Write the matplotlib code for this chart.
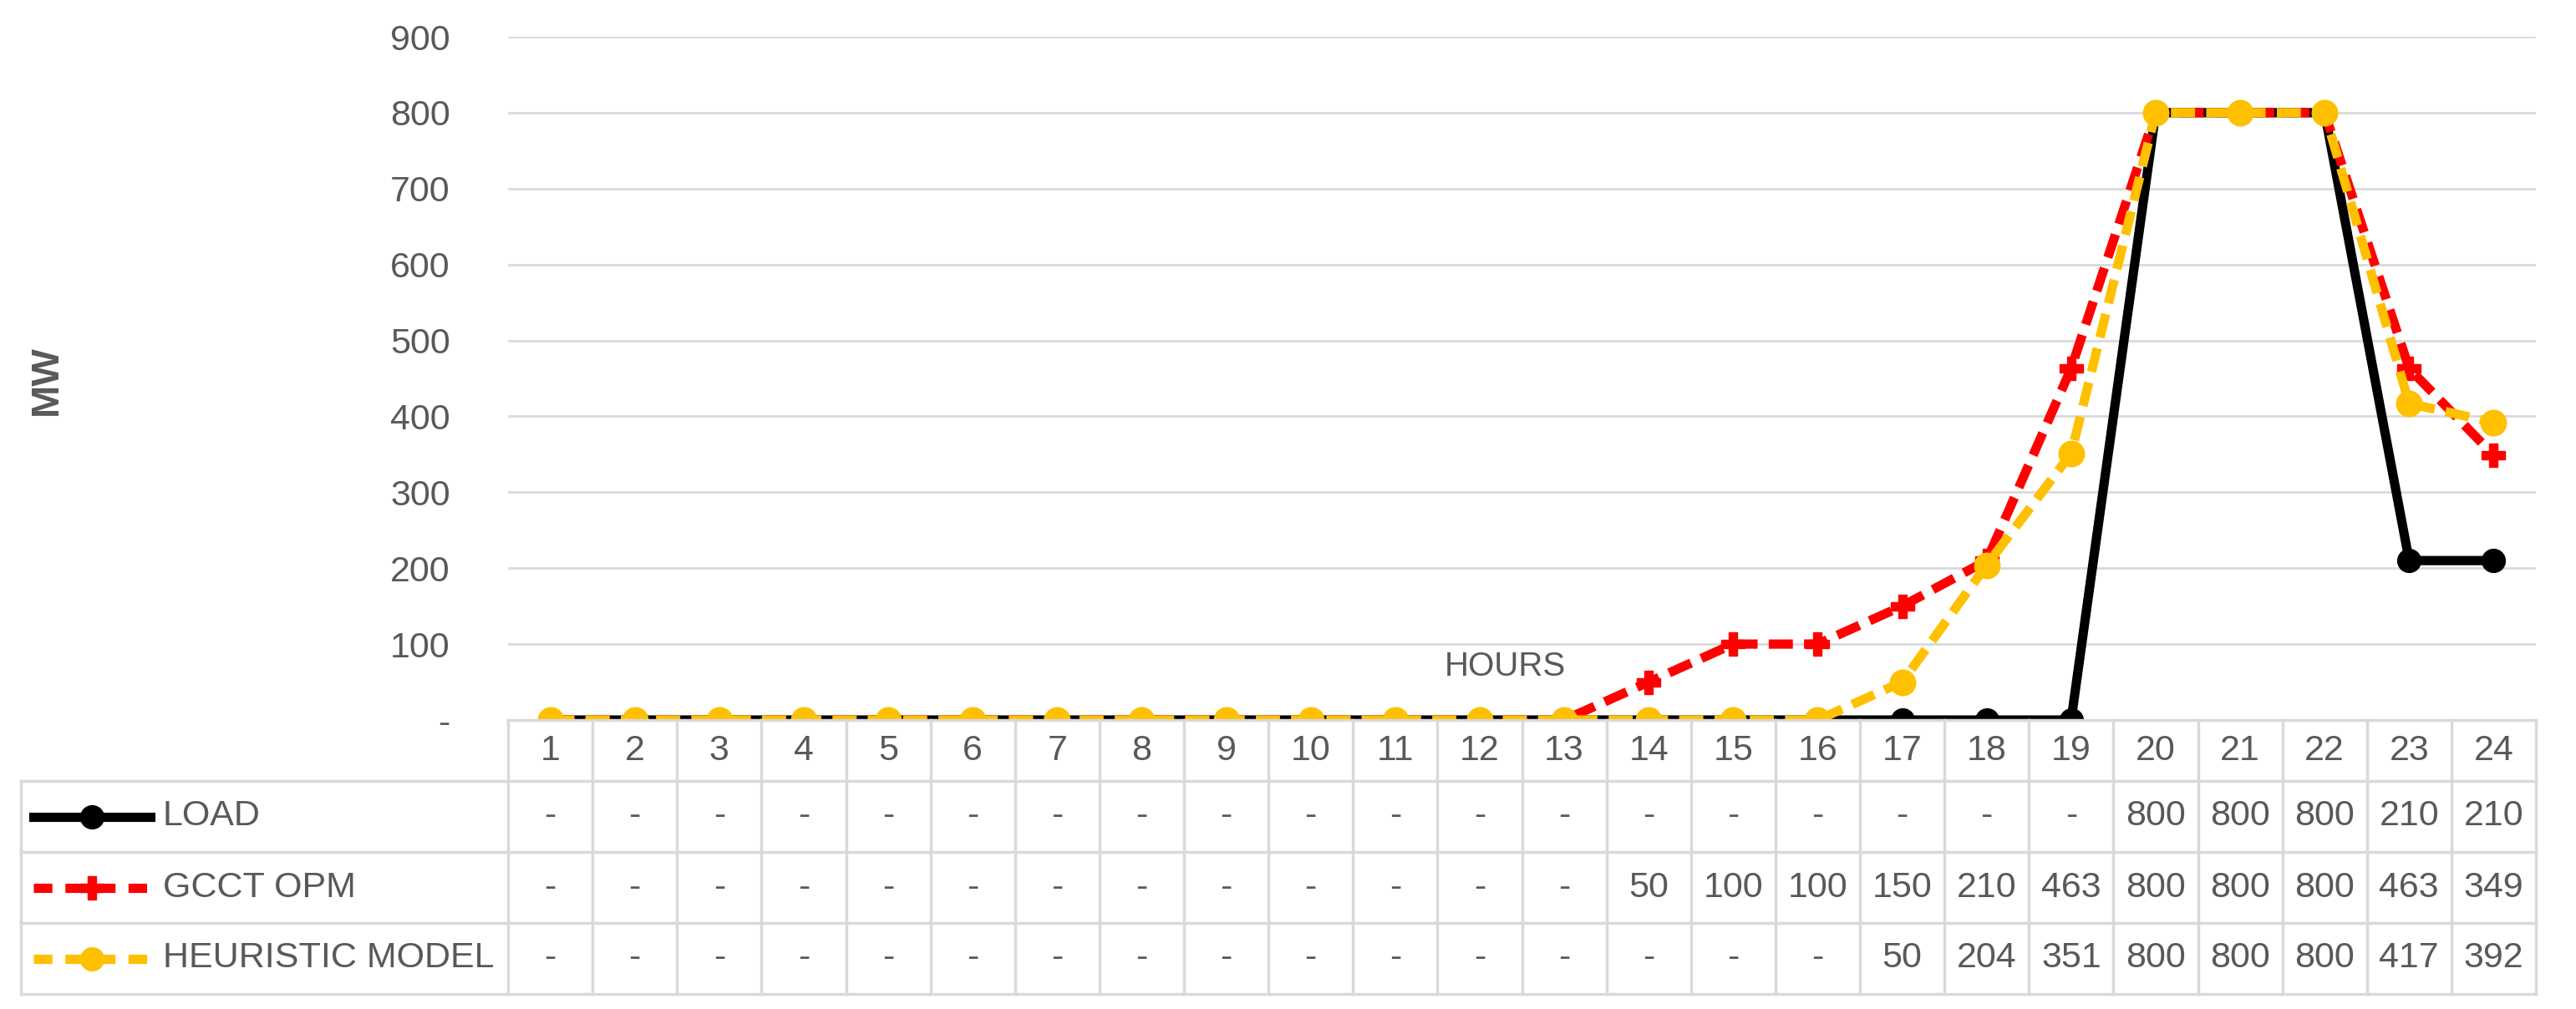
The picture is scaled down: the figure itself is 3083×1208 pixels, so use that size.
import matplotlib
matplotlib.use('Agg')
import matplotlib.pyplot as plt
from matplotlib.lines import Line2D

plt.rcParams['font.family'] = ['Liberation Sans Narrow', 'Liberation Sans', 'DejaVu Sans']

hours = list(range(1, 25))
load = [0] * 19 + [800, 800, 800, 210, 210]
gcct = [0] * 13 + [50, 100, 100, 150, 210, 463, 800, 800, 800, 463, 349]
heur = [0] * 16 + [50, 204, 351, 800, 800, 800, 417, 392]
series_names = ['LOAD', 'GCCT OPM', 'HEURISTIC MODEL']
y_ticks = [0, 100, 200, 300, 400, 500, 600, 700, 800, 900]

grey = '#595959'
grid_c = '#d9d9d9'
W, H = 3083, 1208
fs = 31

fig = plt.figure(figsize=(W / 100, H / 100), dpi=100)
# plot area in figure fraction
left, right = 608 / W, 3035 / W
top, bottom = 1 - 44 / H, 1 - 862 / H
ax = fig.add_axes([left, bottom, right - left, top - bottom])

dash = (0, (2.6, 1.2))
ax.plot(hours, load, color='black', lw=8, marker='o', ms=20, zorder=3)
ax.plot(hours, gcct, color='#ff0000', lw=8, ls=dash, marker='P', ms=20, zorder=4)
ax.plot(hours, heur, color='#ffc000', lw=8, ls=dash, marker='o', ms=22, zorder=5)

ax.set_xlim(0.5, 24.5)
ax.set_ylim(0, 900)
ax.set_yticks(y_ticks)
ax.set_yticklabels(['-'] + [str(v) for v in y_ticks[1:]])
ax.tick_params(axis='y', length=0, labelsize=fs, labelcolor=grey, pad=50)
ax.set_xticks([])
ax.grid(axis='y', color=grid_c, lw=2)
ax.set_axisbelow(True)
for s in ax.spines.values():
    s.set_visible(False)
ax.axhline(0, color=grid_c, lw=2, zorder=1)

ax.text(12.3, 50, 'HOURS', fontsize=29, color=grey, ha='center', va='bottom')
fig.text(56 / W, 1 - 455 / H, 'MW', rotation=90, fontsize=34, fontweight='bold',
         color=grey, ha='center', va='center')

# data table below the plot (figure pixel coords -> fractions)
def fx(p):
    return p / W

def fy(p):
    return 1 - p / H

row_edges = [862, 935, 1020, 1105, 1190]
tab_left = 25
col_w = (3035 - 608) / 24
kw = dict(color=grid_c, lw=2.5, transform=fig.transFigure)
for i, r in enumerate(row_edges):
    x0 = 608 if i == 0 else tab_left
    fig.add_artist(Line2D([fx(x0), fx(3035)], [fy(r), fy(r)], **kw))
for k in range(25):
    x = 608 + k * col_w
    fig.add_artist(Line2D([fx(x), fx(x)], [fy(862), fy(1190)], **kw))
fig.add_artist(Line2D([fx(tab_left)] * 2, [fy(935), fy(1190)], **kw))

for k, h in enumerate(hours):
    cx = fx(608 + (k + 0.5) * col_w)
    fig.text(cx, fy((row_edges[0] + row_edges[1]) / 2), str(h), fontsize=fs,
             color=grey, ha='center', va='center')

styles = [dict(color='black', ls='-', marker='o'),
          dict(color='#ff0000', ls=(0, (2.0, 1.4)), marker='P'),
          dict(color='#ffc000', ls=(0, (2.0, 1.4)), marker='o')]
for j, (name, vals) in enumerate(zip(series_names, [load, gcct, heur])):
    cy = fy((row_edges[j + 1] + row_edges[j + 2]) / 2)
    fig.add_artist(Line2D([fx(40), fx(180)], [cy, cy], lw=8,
                          transform=fig.transFigure,
                          color=styles[j]['color'], ls=styles[j]['ls']))
    fig.add_artist(Line2D([fx(110)], [cy], lw=0, ms=20, transform=fig.transFigure,
                          color=styles[j]['color'], marker=styles[j]['marker']))
    fig.text(fx(195), cy, name, fontsize=fs, color=grey, ha='left', va='center')
    for k, v in enumerate(vals):
        cx = fx(608 + (k + 0.5) * col_w)
        fig.text(cx, cy, '-' if v == 0 else str(v), fontsize=fs,
                 color=grey, ha='center', va='center')

fig.savefig('out.png', dpi=100, facecolor='white')
